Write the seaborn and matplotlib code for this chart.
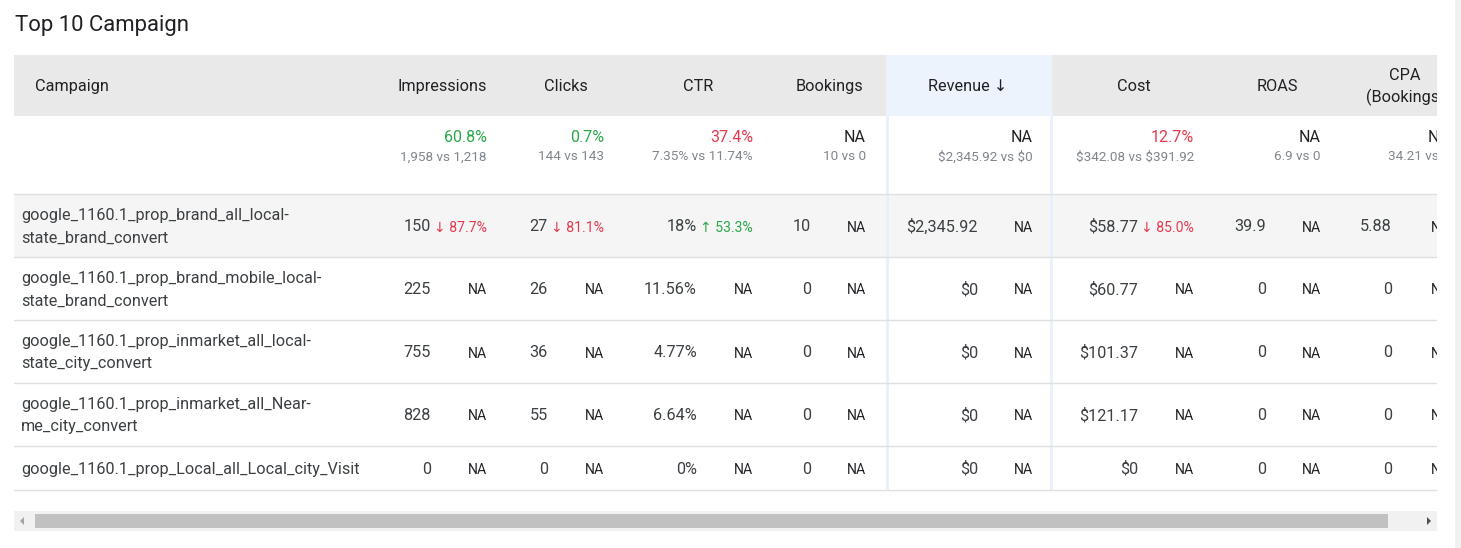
import matplotlib
matplotlib.use("Agg")
import matplotlib.pyplot as plt
import seaborn as sns
from matplotlib.patches import Rectangle, Polygon

sns.set_theme(style="white")
plt.rcParams['font.family'] = ['Roboto', 'DejaVu Sans']

# ---- data ----
campaigns = [
    "google_1160.1_prop_brand_all_local-\nstate_brand_convert",
    "google_1160.1_prop_brand_mobile_local-\nstate_brand_convert",
    "google_1160.1_prop_inmarket_all_local-\nstate_city_convert",
    "google_1160.1_prop_inmarket_all_Near-\nme_city_convert",
    "google_1160.1_prop_Local_all_Local_city_Visit",
]
columns = ["Impressions", "Clicks", "CTR", "Bookings", "Revenue \u2193",
           "Cost", "ROAS", "CPA\n(Bookings)"]

impressions = [150, 225, 755, 828, 0]
clicks = [27, 26, 36, 55, 0]
ctr = [18, 11.56, 4.77, 6.64, 0]
bookings = [10, 0, 0, 0, 0]
revenue = [2345.92, 0, 0, 0, 0]
cost = [58.77, 60.77, 101.37, 121.17, 0]
roas = [39.9, 0, 0, 0, 0]
cpa = [5.88, 0, 0, 0, 0]

# row-level change vs previous period (None -> NA)
impressions_chg = [-87.7, None, None, None, None]
clicks_chg = [-81.1, None, None, None, None]
ctr_chg = [53.3, None, None, None, None]
bookings_chg = [None] * 5
revenue_chg = [None] * 5
cost_chg = [-85.0, None, None, None, None]
roas_chg = [None] * 5
cpa_chg = [None] * 5

# totals row
total_change = [60.8, 0.7, -37.4, None, None, -12.7, None, None]
total_current = [1958, 144, 7.35, 10, 2345.92, 342.08, 6.9, 34.21]
total_previous = [1218, 143, 11.74, 0, 0, 391.92, 0, 0]

values = [impressions, clicks, ctr, bookings, revenue, cost, roas, cpa]
changes = [impressions_chg, clicks_chg, ctr_chg, bookings_chg, revenue_chg,
           cost_chg, roas_chg, cpa_chg]
kinds = ["int", "int", "pct", "int", "money", "money", "num", "num"]


def fmt(v, kind):
    if kind == "int":
        return f"{v:,.0f}"
    if kind == "pct":
        return f"{v:g}%"
    if kind == "money":
        return "$0" if v == 0 else f"${v:,.2f}"
    return f"{v:g}"


# ---- layout (pixels) ----
W, H = 1461, 548
GREEN, RED = "#2BA84A", "#E53950"
DARK, GREY, BODY = "#202124", "#80868B", "#3C4043"
header_x = [442, 566, 698, 829, 968, 1134, 1277, 1405]
right_x = [487, 604, 753, 866, 1033, 1194, 1321, 1450]
value_x = [431, 548, 697, 811, 978, 1138, 1266, 1392]
row_edges = [194, 257, 320, 383, 446, 490]
tbl_left, tbl_right = 14, 1437
FS = 11.7      # body / header
FS_SMALL = 10.1
FS_SUB = 9.7

fig = plt.figure(figsize=(W / 100, H / 100), dpi=100)
bg = fig.add_axes([0, 0, 1, 1])
bg.set_xlim(0, W)
bg.set_ylim(H, 0)
bg.axis("off")

ax = fig.add_axes([tbl_left / W, 0, (tbl_right - tbl_left) / W, 1])
ax.set_xlim(tbl_left, tbl_right)
ax.set_ylim(H, 0)
ax.axis("off")
ax.patch.set_alpha(0)

bg.text(15, 26, "Top 10 Campaign", fontsize=15.9, color=DARK, va="center", ha="left")

# header band, highlighted sort column, hovered row
ax.add_patch(Rectangle((tbl_left, 55), 1500, 61, color="#E9E9E9", lw=0))
ax.add_patch(Rectangle((886, 55), 166, 61, color="#EDF3FD", lw=0))
ax.add_patch(Rectangle((tbl_left, 194), 1500, 63, color="#F5F5F5", lw=0))
for xb in (887, 1051):
    ax.plot([xb, xb], [116, 490], color="#E8F0FD", lw=2, solid_capstyle="butt")
for yb in row_edges:
    ax.plot([tbl_left, 1500], [yb, yb], color="#E0E0E0", lw=1)

ax.text(35, 86.5, "Campaign", fontsize=FS, color=DARK, va="center", ha="left")
for i, col in enumerate(columns):
    ax.text(header_x[i], 86.5 if "\n" not in col else 87, col, fontsize=FS, color=DARK,
            va="center", ha="center", linespacing=1.5, clip_on=True, parse_math=False)

# totals row
for i in range(len(columns)):
    chg = total_change[i]
    if chg is None:
        txt, c = "NA", DARK
    else:
        txt, c = f"{abs(chg):.1f}%", GREEN if chg > 0 else RED
    ax.text(right_x[i], 138, txt, fontsize=11.5, color=c, va="center", ha="right",
            clip_on=True, parse_math=False)
    sub = f"{fmt(total_current[i], kinds[i])} vs {fmt(total_previous[i], kinds[i])}"
    ax.text(right_x[i], 157, sub, fontsize=FS_SUB, color=GREY, va="center", ha="right",
            clip_on=True, parse_math=False)

# campaign rows
for r, name in enumerate(campaigns):
    yc = (row_edges[r] + row_edges[r + 1]) / 2 + 1.2
    ax.text(21, yc, name, fontsize=FS, color=BODY, va="center", ha="left", linespacing=1.6)
    for i in range(len(columns)):
        ax.text(value_x[i], yc, fmt(values[i][r], kinds[i]), fontsize=FS, color=BODY,
                va="center", ha="right", clip_on=True, parse_math=False)
        chg = changes[i][r]
        if chg is None:
            txt, c = "NA", DARK
        else:
            arrow = "\u2191" if chg > 0 else "\u2193"
            txt, c = f"{arrow} {abs(chg):.1f}%", GREEN if chg > 0 else RED
        ax.text(right_x[i], yc + 0.8, txt, fontsize=FS_SMALL, color=c, va="center", ha="right",
                clip_on=True, parse_math=False)

# scrollbars
bg.add_patch(Rectangle((14, 511), 1423, 20, color="#F1F1F1", lw=0))
bg.add_patch(Rectangle((35, 514), 1353, 14, color="#C1C1C1", lw=0))
bg.add_patch(Polygon([[20, 521], [24, 517], [24, 525]], color="#A3A3A3", lw=0))
bg.add_patch(Polygon([[1431, 521], [1427, 517], [1427, 525]], color="#505050", lw=0))
bg.add_patch(Rectangle((1455, 0), 6, H, color="#F1F1F1", lw=0))

fig.savefig("out.png", dpi=100, facecolor="white")
